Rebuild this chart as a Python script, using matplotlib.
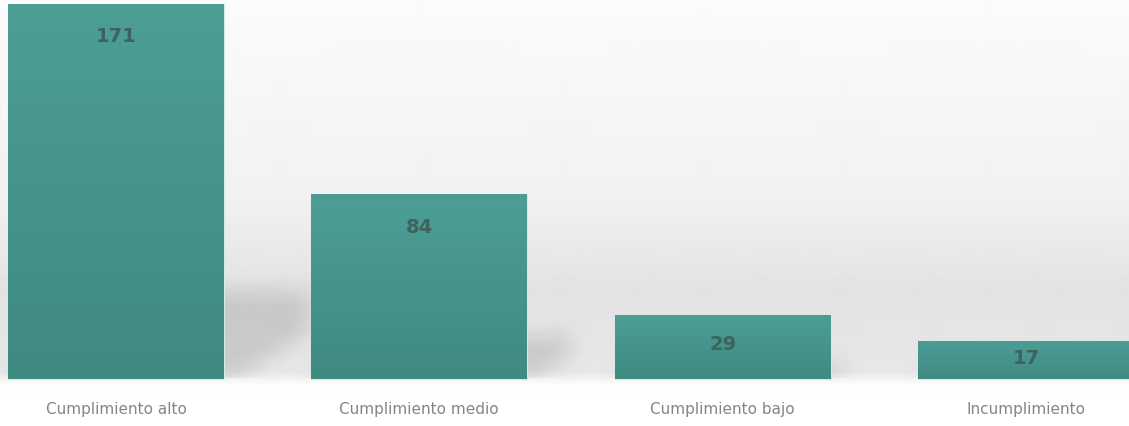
import numpy as np
import matplotlib
matplotlib.use("Agg")
import matplotlib.pyplot as plt
from matplotlib.colors import LinearSegmentedColormap
from matplotlib.path import Path

categories = ["Cumplimiento alto", "Cumplimiento medio", "Cumplimiento bajo", "Incumplimiento"]
values = [171, 84, 29, 17]

W, H = 1129, 427
fig = plt.figure(figsize=(W / 100, H / 100), dpi=100)
ax = fig.add_axes([0, 0, 1, 1])

# pixel -> data mapping
step_px = 303.3
c0_px = 116.0
base_px = 380.0
top_px = 5.0
ypx = max(values) / (base_px - top_px)  # data units per pixel (y)
xpx = 1.0 / step_px
x_lo = (0 - c0_px) / step_px
x_hi = (W - c0_px) / step_px
y_hi = max(values) + top_px * ypx
y_lo = -(H - base_px) * ypx
ax.set_xlim(x_lo, x_hi)
ax.set_ylim(y_lo, y_hi)
ax.axis("off")

# background gradient
prof_px = np.array([0, 200, 290, 372, 386, 427])
prof_val = np.array([0.985, 0.945, 0.89, 0.905, 0.995, 1.0])
rows = np.interp(np.arange(H), prof_px, prof_val)
grad = np.tile(rows[:, None], (1, 4))
ax.imshow(grad, cmap="gray", vmin=0, vmax=1, extent=[x_lo, x_hi, y_lo, y_hi],
          aspect="auto", zorder=0, interpolation="bilinear")

x = np.arange(len(categories))
width = 0.712

# blurred floor shadows (rasterised in data space)
nx, ny = W // 2, H // 2
gx = np.linspace(x_lo, x_hi, nx)
gy = np.linspace(y_hi, y_lo, ny)
GX, GY = np.meshgrid(gx, gy)
pts = np.column_stack([GX.ravel(), GY.ravel()])
mask = np.zeros(nx * ny)
for xi, v in zip(x, values):
    x0, x1 = xi - width / 2, xi + width / 2
    dy = 0.23 * v
    dx = 0.23 * (v / ypx) * xpx
    path = Path([(x0, 0), (x1 + 0.15 * dx, 0), (x1 + dx, 0.55 * dy),
                 (x1 + dx, dy), (x0 + dx, dy), (x0, 0)])
    mask = np.maximum(mask, path.contains_points(pts).astype(float))
mask = mask.reshape(ny, nx)
k = np.exp(-0.5 * (np.arange(-12, 13) / 5.0) ** 2)
k /= k.sum()
mask = np.apply_along_axis(lambda r: np.convolve(r, k, mode="same"), 1, mask)
mask = np.apply_along_axis(lambda c: np.convolve(c, k, mode="same"), 0, mask)
mask[gy < 0, :] = 0
rgba = np.zeros((ny, nx, 4))
rgba[..., :3] = 0.58
rgba[..., 3] = mask * 0.34
ax.imshow(rgba, extent=[x_lo, x_hi, y_lo, y_hi], aspect="auto", zorder=1,
          interpolation="bilinear")

# bars with vertical gradient
cmap_bar = LinearSegmentedColormap.from_list("bar", ["#3f8a81", "#4c9e95"])
bars = ax.bar(x, values, width=width, color="#479890", edgecolor="#cdeee8",
              linewidth=0.8, zorder=2)
for b in bars:
    bx = b.get_x()
    bw, bh = b.get_width(), b.get_height()
    g = np.linspace(1, 0, 64)[:, None]
    ax.imshow(g, cmap=cmap_bar, vmin=0, vmax=1, extent=[bx, bx + bw, 0, bh],
              aspect="auto", zorder=2.5, interpolation="bilinear")

# value labels
off = 32 * ypx
for xi, v in zip(x, values):
    yl = max(v - off, v / 2 + 1.5)
    ax.text(xi, yl, str(v), ha="center", va="center", fontsize=14,
            fontweight="bold", color="#3e635e", zorder=4)

# category labels
for xi, c in zip(x, categories):
    ax.text(xi, -30 * ypx, c, ha="center", va="center", fontsize=11,
            color="#858585", zorder=4)

fig.savefig("out.png", dpi=100)
